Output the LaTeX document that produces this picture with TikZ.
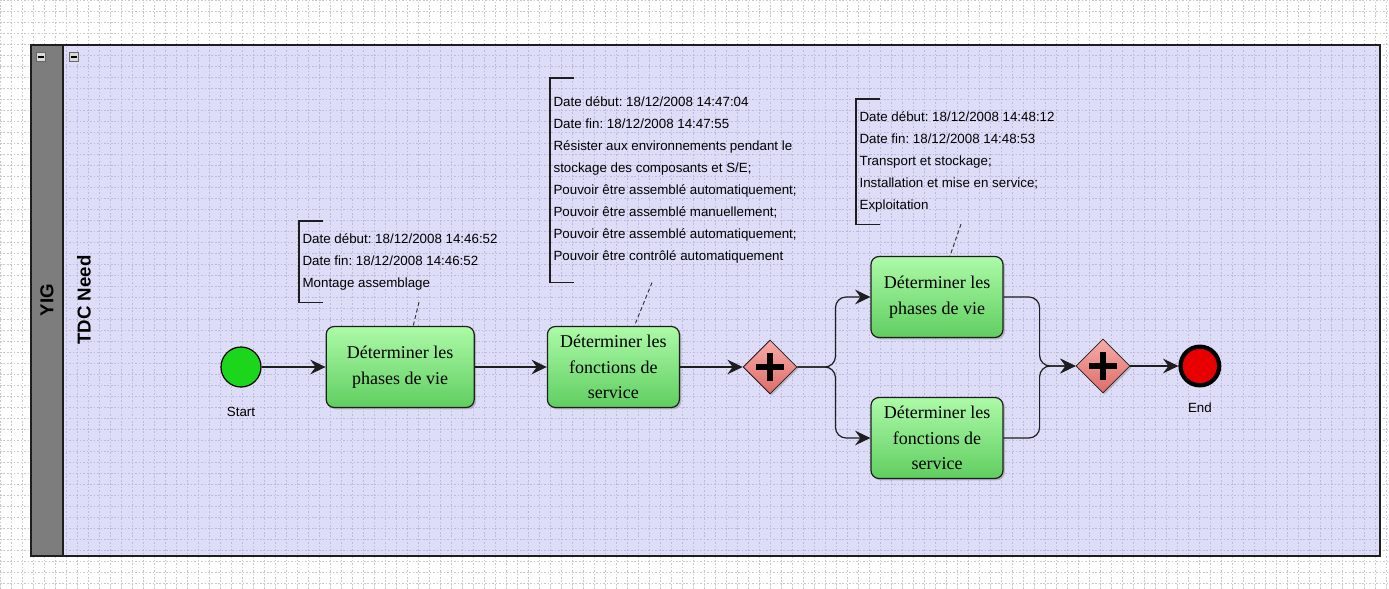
\documentclass[tikz,border=0pt]{standalone}
\usepackage{fontspec}
\setmainfont{Liberation Serif}
\setsansfont{Liberation Sans}
\usepackage{tikz}
\usetikzlibrary{shapes.geometric, arrows.meta, positioning, calc, shadows}
\frenchspacing
\definecolor{mydark}{RGB}{30,30,30}
\definecolor{mylane}{RGB}{221,221,247}
\definecolor{mylanegrid}{RGB}{186,186,222}
\definecolor{mypagegrid}{RGB}{200,200,200}
\definecolor{myhdr}{RGB}{125,125,125}
\definecolor{mygreentop}{RGB}{172,250,168}
\definecolor{mygreenbot}{RGB}{96,206,96}
\definecolor{myredtop}{RGB}{247,172,168}
\definecolor{myredbot}{RGB}{222,108,104}
\definecolor{mystart}{RGB}{28,214,28}
\definecolor{myend}{RGB}{232,0,0}
\tikzset{
  task/.style={rectangle, draw=mydark, top color=mygreentop, bottom color=mygreenbot,
    minimum width=99pt, minimum height=60.75pt, align=center, inner sep=2pt,
    font=\rmfamily\fontsize{13.5}{19}\selectfont, rounded corners=6pt, line width=0.9pt,
    drop shadow={shadow xshift=1.4pt, shadow yshift=-1.4pt, opacity=0.45}},
  gate/.style={diamond, draw=mydark, top color=myredtop, bottom color=myredbot,
    minimum width=40.5pt, minimum height=40.5pt, inner sep=0pt, line width=0.6pt,
    drop shadow={shadow xshift=1.2pt, shadow yshift=-1.2pt, opacity=0.4}},
  note/.style={anchor=north west, align=left, inner xsep=2.5pt, inner ysep=9pt,
    font=\sffamily\fontsize{10}{16.5}\selectfont},
  arrow/.style={-{Stealth[length=11.5pt, width=11pt, inset=4pt]}, line width=0.9pt, color=mydark},
  assoc/.style={line width=0.7pt, color=black!80, dash pattern=on 3pt off 2pt},
  bracket/.style={line width=0.8pt, color=mydark},
  plus/.style={line width=5pt, color=black}
}

\begin{document}
\begin{tikzpicture}[x=0.75pt, y=-0.75pt,
  evlabel/.style={font=\sffamily\fontsize{10}{12}\selectfont},
  pagegrid/.style={step=8.25pt, line width=0.4pt, color=mypagegrid, dash pattern=on 1.2pt off 1.4pt},
  lanegrid/.style={step=8.25pt, line width=0.4pt, color=mylanegrid, dash pattern=on 1.2pt off 1.4pt},
  minusbox/.style={rectangle, draw=black!60, fill=black!15, minimum size=7pt, inner sep=0pt}]

  % Background and pool
  \useasboundingbox (0,0) rectangle (1389,589);
  \fill[white] (0,0) rectangle (1389,589);
  \draw[pagegrid] (0,589) grid (1389,0);
  \fill[mylane] (31,45) rectangle (1380,556);
  \begin{scope}
    \clip (63,45) rectangle (1380,556);
    \draw[lanegrid] (0,589) grid (1389,0);
  \end{scope}
  \fill[myhdr] (31,45) rectangle (63,556);
  \draw[line width=1pt, mydark] (31,45) rectangle (1380,556);
  \draw[line width=1pt, mydark] (63,45) -- (63,556);
  \node[minusbox] (m1) at (41,57) {};
  \node[minusbox] (m2) at (74,57) {};
  \foreach \m in {m1,m2}
    \draw[line width=1.2pt] ([xshift=-2pt]\m.center) -- ([xshift=2pt]\m.center);
  \node[rotate=90, font=\sffamily\bfseries\fontsize{14}{16}\selectfont] (pooltitle) at (47,300) {YIG};
  \node[rotate=90, font=\sffamily\bfseries\fontsize{14}{16}\selectfont] (lanetitle) at (84,300) {TDC Need};

  % Nodes
  \node[circle, draw=black, fill=mystart, minimum size=30pt, line width=0.9pt] (start) at (241,367) {};
  \node[evlabel, below=11pt of start] (startlbl) {Start};
  \node[task, minimum width=111pt, right=48pt of start] (t1) {Déterminer les\\phases de vie};
  \node[task, right=54pt of t1] (t2) {Déterminer les\\fonctions de\\service};
  \node[gate, right=47pt of t2] (split) {};
  \node[task] (t3) at (937,297) {Déterminer les\\phases de vie};
  \node[task] (t4) at (937,438) {Déterminer les\\fonctions de\\service};
  \node[gate] (join) at (1103,366) {};
  \node[circle, draw=black, fill=myend, minimum size=29pt, line width=3.2pt, right=36pt of join] (end) {};
  \node[evlabel, below=8pt of end] (endlbl) {End};
  \foreach \g in {split,join}
    \draw[plus] ([xshift=-10.5pt]\g.center) -- ([xshift=10.5pt]\g.center)
                ([yshift=-10.5pt]\g.center) -- ([yshift=10.5pt]\g.center);

  % Annotations
  \node[note] (n1) at (299,221) {Date début: 18/12/2008 14:46:52\\Date fin: 18/12/2008 14:46:52\\Montage assemblage};
  \node[note, minimum height=153pt] (n2) at (550,78) {Date début: 18/12/2008 14:47:04\\Date fin: 18/12/2008 14:47:55\\Résister aux environnements pendant le\\stockage des composants et S/E;\\Pouvoir être assemblé automatiquement;\\Pouvoir être assemblé manuellement;\\Pouvoir être assemblé automatiquement;\\Pouvoir être contrôlé automatiquement};
  \node[note] (n3) at (856,99) {Date début: 18/12/2008 14:48:12\\Date fin: 18/12/2008 14:48:53\\Transport et stockage;\\Installation et mise en service;\\Exploitation};
  \foreach \n in {n1,n2,n3}
    \draw[bracket] ([xshift=18pt]\n.north west) -- (\n.north west) -- (\n.south west) -- ([xshift=18pt]\n.south west);
  \draw[assoc] ($(n1.south west)+(120,0)$) -- ($(t1.north)+(13,0)$);
  \draw[assoc] ($(n2.south west)+(102,0)$) -- ($(t2.north)+(21,0)$);
  \draw[assoc] ($(n3.south west)+(105,0)$) -- ($(t3.north)+(13,0)$);

  % Paths
  \draw[arrow] (start) -- (t1);
  \draw[arrow] (t1) -- (t2);
  \draw[arrow] (t2) -- (split);
  \draw[arrow, rounded corners=8pt] (split.east) -- ++(38,0) |- (t3.west);
  \draw[arrow, rounded corners=8pt] (split.east) -- ++(38,0) |- (t4.west);
  \draw[arrow, rounded corners=8pt] (t3.east) -| ($(join.west)+(-36,0)$) -- (join.west);
  \draw[arrow, rounded corners=8pt] (t4.east) -| ($(join.west)+(-36,0)$) -- (join.west);
  \draw[arrow] (join) -- (end);

\end{tikzpicture}
\end{document}
